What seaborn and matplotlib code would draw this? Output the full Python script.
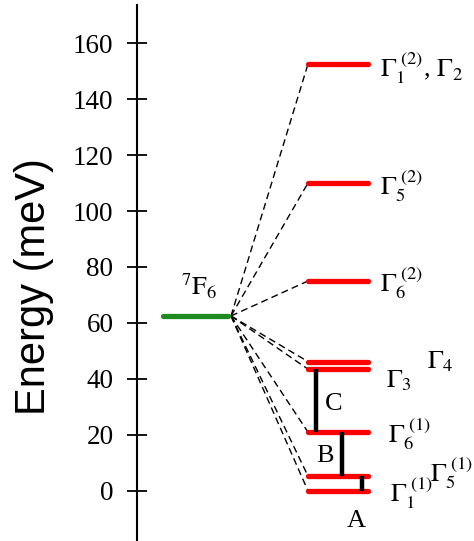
import pandas as pd
import matplotlib
matplotlib.use("Agg")
import matplotlib.pyplot as plt
import seaborn as sns

# free-ion term and crystal-field levels (meV)
term_label = r"$^{7}\mathrm{F}_{6}$"
term_energy = 62.5
cf_energies = [152.5, 110.0, 75.0, 46.2, 43.5, 21.0, 5.3, 0.0]

# irreducible representation labels
irrep_labels = [
    r"$\Gamma_1^{\ (2)}$, $\Gamma_2$",
    r"$\Gamma_5^{\ (2)}$",
    r"$\Gamma_6^{\ (2)}$",
    r"$\Gamma_4$",
    r"$\Gamma_3$",
    r"$\Gamma_6^{\ (1)}$",
    r"$\Gamma_5^{\ (1)}$",
    r"$\Gamma_1^{\ (1)}$",
]

# observed transitions
trans_names = ["C", "B", "A"]
trans_low = [21.0, 5.3, 0.0]
trans_high = [43.5, 21.0, 5.3]

yticks = [0, 20, 40, 60, 80, 100, 120, 140, 160]

# layout (x in pixel-like units of the axes)
LEVEL_X = (308, 368)
TERM_X = (163, 228)
FAN_X = 231
label_pos = [(380, 147.9), (380, 105.7), (380, 71.1), (427, 43.9),
             (386, 37.1), (388, 17.1), (430, 3.2), (390, -3.9)]
trans_x = [316, 342, 362]
trans_text = [(325, 28.9), (316, 10.4), (347, -12.9)]


def main():
    sns.set_style("ticks")
    plt.rcParams["font.family"] = ["Liberation Serif", "DejaVu Serif"]
    plt.rcParams["mathtext.fontset"] = "stix"
    plt.rcParams["text.color"] = "black"
    plt.rcParams["ytick.color"] = "black"
    plt.rcParams["ytick.labelcolor"] = "black"
    plt.rcParams["axes.edgecolor"] = "black"

    fig = plt.figure(figsize=(4.74, 5.41), dpi=100)
    ax = fig.add_axes([137 / 474, 0.0, 1 - 137 / 474, 1 - 5 / 541])

    # dashed fan from the term to each level
    fan = pd.DataFrame({
        "x": [FAN_X, LEVEL_X[0]] * len(cf_energies),
        "E": [e for lvl in cf_energies for e in (term_energy, lvl)],
        "level": [i for i in range(len(cf_energies)) for _ in range(2)],
    })
    sns.lineplot(data=fan, x="x", y="E", units="level", estimator=None,
                 sort=False, color="black", lw=1.0, linestyle=(0, (5, 3)),
                 ax=ax, legend=False)

    levels = pd.DataFrame({
        "x": list(LEVEL_X) * len(cf_energies),
        "E": [lvl for lvl in cf_energies for _ in range(2)],
        "level": [i for i in range(len(cf_energies)) for _ in range(2)],
    })
    sns.lineplot(data=levels, x="x", y="E", units="level", estimator=None,
                 color="#ff0000", lw=3.8, solid_capstyle="round",
                 ax=ax, legend=False)

    term = pd.DataFrame({"x": list(TERM_X), "E": [term_energy] * 2})
    sns.lineplot(data=term, x="x", y="E", color="#1f8a1f", lw=3.8,
                 solid_capstyle="round", ax=ax, legend=False)

    ax.vlines(trans_x, trans_low, trans_high, color="black", lw=3.2)

    for name, (tx, ty) in zip(trans_names, trans_text):
        ax.text(tx, ty, name, fontsize=19, va="baseline", ha="left")
    for lab, (lx, ly) in zip(irrep_labels, label_pos):
        ax.text(lx, ly, lab, fontsize=19, va="baseline", ha="left")
    ax.text(181, 70, term_label, fontsize=19, va="baseline", ha="left")

    ax.set_xlim(137, 474)
    ax.set_ylim(-17.9, 173.6)
    ax.set_yticks(yticks)
    ax.set_xticks([])
    ax.set_xlabel("")
    ax.set_ylabel("")
    for side in ["top", "right", "bottom"]:
        ax.spines[side].set_visible(False)
    ax.spines["left"].set_linewidth(1.5)
    ax.tick_params(axis="y", direction="inout", length=14, width=1.3,
                   pad=10, labelsize=19.5, colors="black")

    fig.text(34 / 474, 1 - 287 / 541, "Energy (meV)", rotation=90,
             ha="center", va="center", fontsize=30,
             family=["Liberation Sans", "DejaVu Sans"])

    plt.savefig("out.png", dpi=100)
    plt.close()


if __name__ == "__main__":
    main()
